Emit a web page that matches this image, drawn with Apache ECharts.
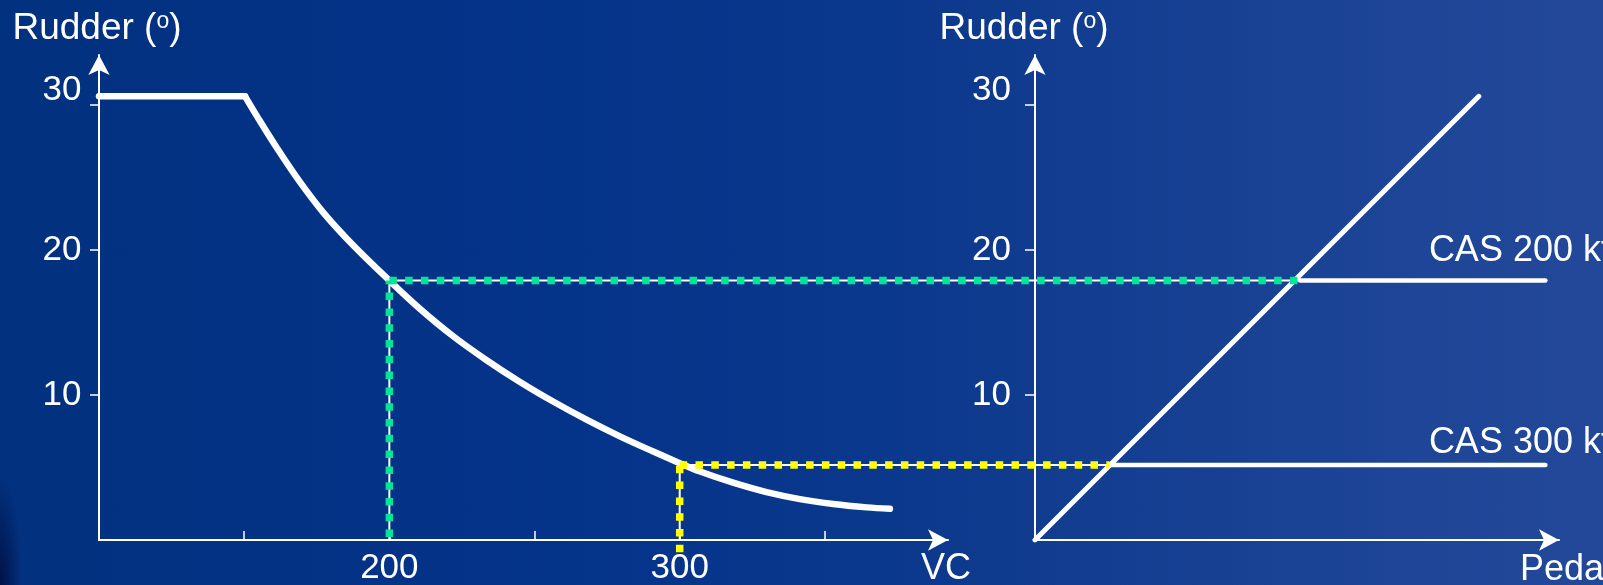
<!DOCTYPE html>
<html><head><meta charset="utf-8">
<script src="https://cdn.jsdelivr.net/npm/echarts@6/dist/echarts.min.js"></script>
<style>
html,body{margin:0;padding:0;overflow:hidden;}
#c{width:1603px;height:585px;
background:
 radial-gradient(ellipse 22px 110px at 0px 585px, rgba(0,12,60,0.85), rgba(0,12,60,0) 100%),
 linear-gradient(to right, #02317f 0%, #04338a 35%, #0a388c 55%, #143e91 70%, #1e4597 88%, #23489a 100%);}
</style>
</head><body><div id="c"></div>
<script>
// ---- data ----
const vcTicks = [150, 200, 250, 300, 350];
const vcTickLabels = [200, 300];
const rudderTicks = [10, 20, 30];
const plateauVC = [100, 150.3];
const plateauRudder = [30.6, 30.6];
const scheduleVC = [150.3, 154.5, 161.4, 169.0, 177.2, 187.2, 200, 210.5, 222.0, 233.5, 245.0, 256.4, 267.9, 279.4, 290.9, 300, 307.0, 318.4, 329.9, 341.4, 352.9, 364.4, 372.4];
const scheduleRudder = [30.6, 29.2, 27.0, 24.75, 22.6, 20.4, 17.9, 15.95, 14.05, 12.4, 10.9, 9.55, 8.3, 7.15, 6.1, 5.3, 4.72, 3.95, 3.3, 2.82, 2.48, 2.25, 2.15];
const pedalDiag = [0, 84.7];
const rudderDiag = [0, 30.6];
const casLabels = ['CAS 200 kt', 'CAS 300 kt'];
const casVC = [200, 300];
const casRudder = [17.9, 5.17];
const casPedal = [50.6, 14.2];
const casLineEnd = 97.4;
const guideBottom = [0.2, -0.85];
const guideColors = ['#00e596', '#ffff00'];

// ---- styles ----
const FONT = 'Liberation Sans, Arial, sans-serif';
const W = '#ffffff';
const RUDDER_MAX = 33.45;
function yAxisCfg(grid, margin, tickLen, nameShift) {
  return {
    type: 'value', gridIndex: grid, min: 0, max: RUDDER_MAX,
    axisLine: { show: true, symbol: ['none', 'arrow'], symbolSize: [16, 20], lineStyle: { color: W, width: 2 } },
    axisTick: { show: true, inside: false, length: tickLen, customValues: rudderTicks, lineStyle: { color: W, width: 1.5 } },
    axisLabel: {
      show: true, margin: margin, customValues: rudderTicks,
      formatter: v => v === 30 ? '{hi|30}' : '{n|' + v + '}',
      rich: {
        hi: { color: W, fontSize: 35, fontFamily: FONT, lineHeight: 35, padding: [0, 0, 30, 0] },
        n: { color: W, fontSize: 35, fontFamily: FONT, lineHeight: 35 }
      }
    },
    splitLine: { show: false },
    name: '{m|Rudder (}{s|o}{m|)}',
    nameLocation: 'end', nameGap: 8,
    nameTextStyle: {
      align: 'center', verticalAlign: 'bottom', padding: [0, nameShift, 0, 0],
      rich: {
        m: { color: W, fontSize: 37, fontFamily: FONT, lineHeight: 37 },
        s: { color: W, fontSize: 23, fontFamily: FONT, lineHeight: 23, verticalAlign: 'top' }
      }
    }
  };
}

const GRID_TOP = 55, GRID_H = 485;
const baseAxes = {
  animation: false,
  backgroundColor: 'transparent',
  grid: [
    { left: 99, top: GRID_TOP, width: 849, height: GRID_H, outerBoundsMode: 'none', containLabel: false },
    { left: 1035, top: GRID_TOP, width: 524, height: GRID_H, outerBoundsMode: 'none', containLabel: false },
    // overlay grid spanning both panels, used for the guide lines that cross from one panel to the other
    { left: 99, top: GRID_TOP, width: 1460, height: GRID_H, outerBoundsMode: 'none', containLabel: false }
  ],
  xAxis: [
    {
      type: 'value', gridIndex: 0, min: 100, max: 392.4,
      axisLine: { show: true, symbol: ['none', 'arrow'], symbolSize: [16, 20], lineStyle: { color: W, width: 2 } },
      axisTick: { show: true, inside: true, length: 9, customValues: vcTicks, lineStyle: { color: W, width: 1.5 } },
      axisLabel: { show: true, customValues: vcTickLabels, color: W, fontSize: 35, fontFamily: FONT, margin: 11 },
      splitLine: { show: false },
      name: 'VC', nameLocation: 'end', nameGap: -27,
      nameTextStyle: { color: W, fontSize: 36, fontFamily: FONT, align: 'left', verticalAlign: 'top', padding: [11, 0, 0, 0] }
    },
    {
      type: 'value', gridIndex: 1, min: 0, max: 100,
      axisLine: { show: true, symbol: ['none', 'arrow'], symbolSize: [16, 20], lineStyle: { color: W, width: 2 } },
      axisTick: { show: false }, axisLabel: { show: false }, splitLine: { show: false },
      name: 'Pedal', nameLocation: 'end', nameGap: -39,
      nameTextStyle: { color: W, fontSize: 36, fontFamily: FONT, align: 'left', verticalAlign: 'top', padding: [12, 0, 0, 0] }
    },
    { type: 'value', gridIndex: 2, min: 0, max: 1, show: false }
  ],
  yAxis: [yAxisCfg(0, 17.5, 9, 4), yAxisCfg(1, 24, 10, 22),
    { type: 'value', gridIndex: 2, min: 0, max: RUDDER_MAX, show: false }]
};

function lineSeries(xi, yi, data, style, z, clip, smooth) {
  return {
    type: 'line', xAxisIndex: xi, yAxisIndex: yi, data: data,
    showSymbol: false, symbol: 'none', silent: true, clip: clip === undefined ? true : clip, z: z,
    smooth: smooth || false,
    lineStyle: style
  };
}

function buildSeries(join) {
  const s = [];
  // speed schedule: plateau + curve
  s.push(lineSeries(0, 0, plateauVC.map((v, i) => [v, plateauRudder[i]]),
    { color: W, width: 6.5, cap: 'round', join: 'round' }, 5));
  s.push(lineSeries(0, 0, scheduleVC.map((v, i) => [v, scheduleRudder[i]]),
    { color: W, width: 6.5, cap: 'round', join: 'round' }, 5, true, 0.35));
  // pedal to rudder diagonal
  s.push(lineSeries(1, 1, pedalDiag.map((p, i) => [p, rudderDiag[i]]),
    { color: W, width: 5, cap: 'round', join: 'round' }, 5));
  casVC.forEach((vc, i) => {
    const r = casRudder[i];
    const col = guideColors[i];
    // thin white guides
    s.push(lineSeries(0, 0, [[vc, 0], [vc, r]], { color: W, width: 2 }, 3, false));
    if (join) s.push(lineSeries(2, 2, [[join[i][0], r], [join[i][1], r]], { color: W, width: 2 }, 3, false));
    // coloured dashes
    s.push(lineSeries(0, 0, [[vc, guideBottom[i]], [vc, r]], { color: col, width: 7.5, type: [7.5, 8.3], cap: 'butt' }, 6, false));
    if (join) s.push(lineSeries(2, 2, [[join[i][0], r], [join[i][1], r]], { color: col, width: 7.5, type: [7.5, 8.3], cap: 'butt' }, 6, false));
    // CAS constant line in pedal chart
    s.push(lineSeries(1, 1, [[casPedal[i], r], [casLineEnd, r]], { color: W, width: 4.5, cap: 'round' }, 5));
    // CAS label
    s.push({
      type: 'scatter', xAxisIndex: 1, yAxisIndex: 1, silent: true, z: 7,
      symbolSize: 1, itemStyle: { color: W, opacity: 0 },
      data: [[casLineEnd, r]],
      label: {
        show: true, formatter: casLabels[i], color: W, opacity: 1, fontSize: 36, fontFamily: FONT,
        textBorderWidth: 0, textShadowBlur: 0,
        position: [-116, i === 0 ? -11 : -3], align: 'left', verticalAlign: 'bottom', lineHeight: 36
      }
    });
  });
  return s;
}

const chart = echarts.init(document.getElementById('c'), null, { renderer: 'canvas' });
chart.setOption(Object.assign({}, baseAxes, { series: buildSeries(null) }));
// guide line ends: VC point in the left panel, intersection with the diagonal in the right panel
const join = casVC.map((vc, i) => {
  const a = chart.convertToPixel({ xAxisIndex: 0 }, vc);
  const b = chart.convertToPixel({ xAxisIndex: 1 }, casPedal[i]);
  return [chart.convertFromPixel({ xAxisIndex: 2 }, a), chart.convertFromPixel({ xAxisIndex: 2 }, b)];
});
chart.setOption(Object.assign({}, baseAxes, { series: buildSeries(join) }), true);
</script>
</body></html>
